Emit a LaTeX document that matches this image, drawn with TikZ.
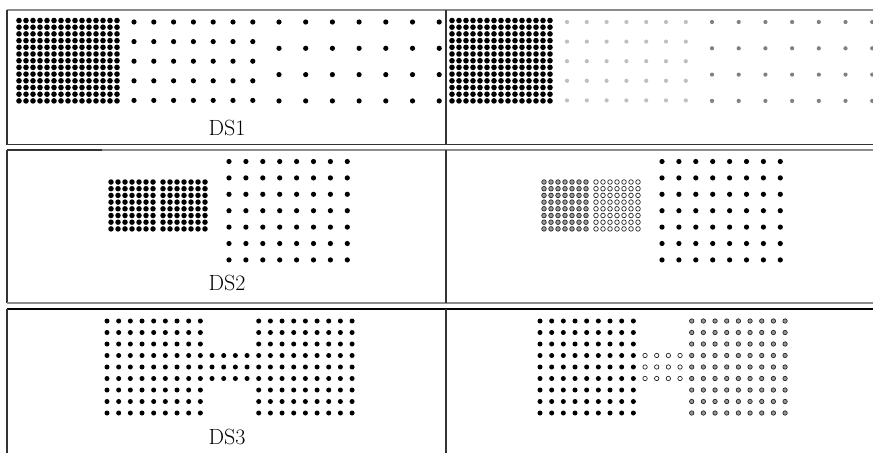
\documentclass[tikz,border=0pt]{standalone}
\usetikzlibrary{calc}

\begin{document}
\begin{tikzpicture}[
    x=1pt, y=-1pt,
    lightrule/.style ={line width=1.3pt, draw=black!45},
    darkrule/.style  ={line width=1.3pt, draw=black!80},
    blackdot/.style  ={fill=black},
    palegrey/.style  ={fill=black!25},
    midgrey/.style   ={fill=black!50},
    greyring/.style  ={fill=black!40, draw=black!85, line width=0.7pt},
    whitering/.style ={fill=white, draw=black!85, line width=0.7pt},
    dslabel/.style   ={font=\fontsize{22}{26}\selectfont, inner sep=0pt}
]
\useasboundingbox (0,0) rectangle (873,453);

% ---------- layout parameters ----------
\def\cellShift{433}   % offset from left cell to right cell
\def\midRule{446}     % x of the middle rule

% ---------- table rules ----------
% row 1
\draw[lightrule] (7,10) -- (873,10);
\draw[darkrule] (7,10) -- (7,144.5);
\draw[darkrule] (7,144.5) -- (873,144.5);
\draw[darkrule] (\midRule,10) -- (\midRule,144.5);
% row 2
\draw[lightrule] (7,150) -- (873,150);
\draw[darkrule] (7,150) -- (102,150);
\draw[darkrule] (7,150) -- (7,303);
\draw[lightrule] (7,303) -- (873,303);
\draw[darkrule] (\midRule,150) -- (\midRule,303);
% row 3
\draw[line width=1.3pt] (7,309) -- (873,309);
\draw[darkrule] (7,309) -- (7,453);
\draw[darkrule] (\midRule,309) -- (\midRule,453);

% ---------- DS1 ----------
\foreach \i in {0,...,14} \foreach \j in {0,...,12} {
    \fill[blackdot] ({19+\i*7.0},{20.5+\j*6.7}) circle (2.8pt);
    \fill[blackdot] ({19+\cellShift+\i*7.0},{20.5+\j*6.7}) circle (2.8pt);
}
\foreach \i in {0,...,6} \foreach \j in {0,...,4} {
    \fill[blackdot] ({134+\i*19.8},{22+\j*19.6}) circle (2.6pt);
    \fill[palegrey] ({134+\cellShift+\i*19.8},{22+\j*19.6}) circle (2.1pt);
}
\foreach \i in {0,...,6} \foreach \j in {0,...,3} {
    \fill[blackdot] ({279+\i*26.7},{22+\j*26.3}) circle (2.6pt);
    \fill[midgrey] ({279+\cellShift+\i*26.7},{22+\j*26.3}) circle (2.1pt);
}
\node[dslabel] (ds1) at (227,128) {DS1};

% ---------- DS2 ----------
\foreach \i in {0,...,6} \foreach \j in {0,...,7} {
    \fill[blackdot] ({111+\i*7},{182+\j*6.7}) circle (2.75pt);
    \fill[blackdot] ({163+\i*7},{182+\j*6.7}) circle (2.75pt);
    \filldraw[greyring] ({111+\cellShift+\i*7},{182+\j*6.7}) circle (2.3pt);
    \filldraw[whitering] ({163+\cellShift+\i*7},{182+\j*6.7}) circle (2.3pt);
}
\foreach \i in {0,...,7} \foreach \j in {0,...,6} {
    \fill[blackdot] ({229+\i*16.9},{161.5+\j*16.4}) circle (2.6pt);
    \fill[blackdot] ({229+\cellShift+\i*16.9},{161.5+\j*16.4}) circle (2.6pt);
}
\node[dslabel] (ds2) at (227,283) {DS2};

% ---------- DS3 (two blocks joined by a bridge) ----------
\foreach \i in {0,...,8} \foreach \j in {0,...,8} {
    \fill[blackdot] ({107+\i*11.67},{321+\j*11.5}) circle (2.5pt);
    \fill[blackdot] ({107+\cellShift+\i*11.67},{321+\j*11.5}) circle (2.5pt);
}
\foreach \i in {9,...,12} \foreach \j in {3,...,5} {
    \fill[blackdot] ({107+\i*11.67},{321+\j*11.5}) circle (2.5pt);
    \filldraw[whitering] ({107+\cellShift+\i*11.67},{321+\j*11.5}) circle (2.2pt);
}
\foreach \i in {13,...,21} \foreach \j in {0,...,8} {
    \fill[blackdot] ({107+\i*11.67},{321+\j*11.5}) circle (2.5pt);
    \filldraw[greyring] ({107+\cellShift+\i*11.67},{321+\j*11.5}) circle (2.2pt);
}
\node[dslabel] (ds3) at (227,437) {DS3};

\end{tikzpicture}
\end{document}
